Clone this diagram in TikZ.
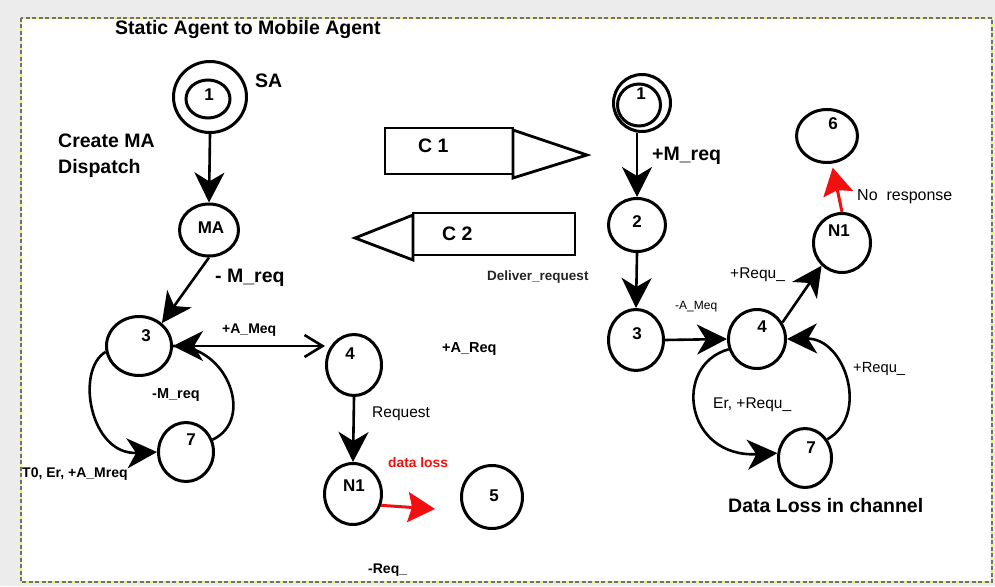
\documentclass[tikz,border=0pt]{standalone}
\usepackage{fontspec}
\setmainfont{Liberation Sans}
\usetikzlibrary{shapes.geometric,arrows.meta}
\definecolor{bggray}{HTML}{ECECEC}
\definecolor{framegray}{HTML}{6E7080}
\definecolor{frameyel}{HTML}{EEF26A}
\definecolor{lossred}{HTML}{F01010}
\begin{document}
\begin{tikzpicture}[x=1pt,y=-1pt,
  st/.style={draw, ellipse, line width=3pt, inner sep=0pt},
  ln/.style={line width=2.6pt},
  bigtip/.style={-{Stealth[length=30pt,width=30pt,inset=9pt]}},
  redtip/.style={-{Stealth[length=27pt,width=30pt,inset=4pt]}},
  lab/.style={anchor=base west, inner sep=0pt},
  num/.style={anchor=center, inner sep=0pt, font=\bfseries\fontsize{17}{20}\selectfont},
  bigf/.style={font=\bfseries\fontsize{19.5}{22}\selectfont},
  smb/.style={font=\bfseries\fontsize{14}{16}\selectfont},
  smr/.style={font=\fontsize{15.5}{18}\selectfont}
]
\useasboundingbox (0,0) rectangle (995,586);
% background and frame
\fill[bggray] (0,0) rectangle (995,586);
\fill[white] (21,18) rectangle (992,582);
\draw[frameyel, line width=2pt] (21,18) rectangle (992,582);
\draw[framegray, line width=2pt, dash pattern=on 4pt off 2.5pt] (21,18) rectangle (992,582);

% ---------- left machine ----------
\node[st, minimum width=73pt, minimum height=71pt] (saO) at (210,97) {};
\node[st, minimum width=44pt, minimum height=38pt] (saI) at (208,99) {};
\node[num] (t1L) at (209,95) {1};
\node[st, minimum width=59pt, minimum height=52pt] (ma) at (209,230) {};
\node[num] (tMA) at (211,228) {MA};
\node[st, minimum width=65pt, minimum height=59pt] (l3) at (139,346) {};
\node[num] (t3L) at (146,336) {3};
\node[st, minimum width=55pt, minimum height=61pt] (l4) at (354,365) {};
\node[num] (t4L) at (350,354) {4};
\node[st, minimum width=55pt, minimum height=59pt] (l7) at (186,452) {};
\node[num] (t7L) at (191,440) {7};
\node[st, minimum width=57pt, minimum height=61pt] (n1) at (353,494) {};
\node[num] (tN1L) at (354,486) {N1};
\node[st, minimum width=61pt, minimum height=63pt] (l5) at (492,497) {};
\node[num] (t5L) at (494,496) {5};

\draw[ln, bigtip] (saO.south) -- (ma.north);
\draw[ln, bigtip] (ma.south) -- (l3.45);
\draw[ln, {Stealth[length=30pt,width=30pt,inset=9pt]}-{Straight Barb[length=18pt,width=22pt]}] (l3.east) -- (l3.east -| l4.west);
\draw[ln] (l7.25) .. controls (255,420) and (228,345) .. (l3.east);
\draw[ln, bigtip] (l3.190) .. controls (75,370) and (90,455) .. (l7.west);
\draw[ln, bigtip] (l4.south) -- (n1.north);
\coordinate (dlend) at (435,509);
\draw[lossred, line width=3pt, redtip] (n1.-22) -- (dlend);

% ---------- channels ----------
\draw[line width=2.8pt, line join=miter] (385,128) rectangle (513,174);
\draw[line width=2.8pt, line join=miter] (513,130) -- (587,155) -- (513,178) -- cycle;
\node[lab, bigf] (c1) at (418,152) {C 1};
\draw[line width=2.8pt, line join=miter] (413,213) rectangle (575,255);
\draw[line width=2.8pt, line join=miter] (413,215) -- (355,238) -- (413,260) -- cycle;
\node[lab, bigf] (c2) at (442,240) {C 2};

% ---------- right machine ----------
\node[st, minimum width=57pt, minimum height=57pt] (r1O) at (642,103) {};
\node[st, minimum width=43pt, minimum height=42pt] (r1I) at (639,105) {};
\node[num] (t1R) at (641,94) {1};
\node[st, minimum width=57pt, minimum height=53pt] (r2) at (637,225) {};
\node[num] (t2R) at (637,222) {2};
\node[st, minimum width=55pt, minimum height=61pt] (r3) at (636,340) {};
\node[num] (t3R) at (637,334) {3};
\node[st, minimum width=57pt, minimum height=59pt] (r4) at (757,339) {};
\node[num] (t4R) at (762,327) {4};
\node[st, minimum width=53pt, minimum height=59pt] (r7) at (805,458) {};
\node[num] (t7R) at (811,448) {7};
\node[st, minimum width=57pt, minimum height=59pt] (rn1) at (842,243) {};
\node[num] (tN1R) at (839,231) {N1};
\node[st, minimum width=61pt, minimum height=53pt] (r6) at (827,136) {};
\node[num] (t6R) at (833,124) {6};

\draw[ln, bigtip] (r2.north |- r1O.south) -- (r2.north);
\draw[ln, bigtip] (r2.south) -- (r3.north);
\draw[ln, bigtip] (r3.east) -- (r4.west);
\draw[ln, bigtip] (r4.33) -- (rn1.228);
\draw[lossred, line width=3pt, redtip, shorten >=4pt] (rn1.north) -- (r6.-80);
\draw[ln, bigtip] (r4.200) .. controls (672,365) and (685,458) .. (r7.170);
\draw[ln, bigtip] (r7.40) .. controls (870,415) and (845,338) .. (r4.east);

% ---------- labels ----------
\node[lab, bigf] (title) at (115,35) {Static Agent to Mobile Agent};
\node[lab, bigf] (lSA) at (255,87) {SA};
\node[lab, bigf] (lCreate) at (58,147) {Create MA};
\node[lab, bigf] (lDisp) at (58,173) {Dispatch};
\node[lab, bigf] (lMreq) at (215,282) {-\ M\_req};
\node[lab, bigf] (lPMreq) at (652,160) {+M\_req};
\node[lab, font=\bfseries\fontsize{13.5}{16}\selectfont, text=black!85] (lDeliv) at (487,280) {Deliver\_request};
\node[lab, smb] (lAMeq) at (222,333) {+A\_Meq};
\node[lab, font=\bfseries\fontsize{14.5}{16}\selectfont] (lMreq2) at (152,398) {-M\_req};
\node[lab, smb] (lT0) at (22,477) {T0, Er, +A\_Mreq};
\node[lab, smr] (lReq) at (372,417) {Request};
\node[lab, font=\bfseries\fontsize{13.8}{16}\selectfont, text=lossred] (lLoss) at (388,467) {data loss};
\node[lab, font=\bfseries\fontsize{14.5}{16}\selectfont] (lAReq) at (442,352) {+A\_Req};
\node[lab, smb] (lReqU) at (368,573) {-Req\_};
\node[lab, font=\fontsize{12}{14}\selectfont] (lAMeqR) at (675,309) {-A\_Meq};
\node[lab, font=\fontsize{16}{18}\selectfont] (lNoResp) at (857,200) {No\ \ response};
\node[lab, smr] (lRequ1) at (730,278) {+Requ\_};
\node[lab, smr] (lErRequ) at (713,408) {Er, +Requ\_};
\node[lab, font=\fontsize{14.7}{17}\selectfont] (lRequ2) at (853,372) {+Requ\_};
\node[lab, bigf] (lDataLoss) at (728,512) {Data Loss in channel};
\end{tikzpicture}
\end{document}
